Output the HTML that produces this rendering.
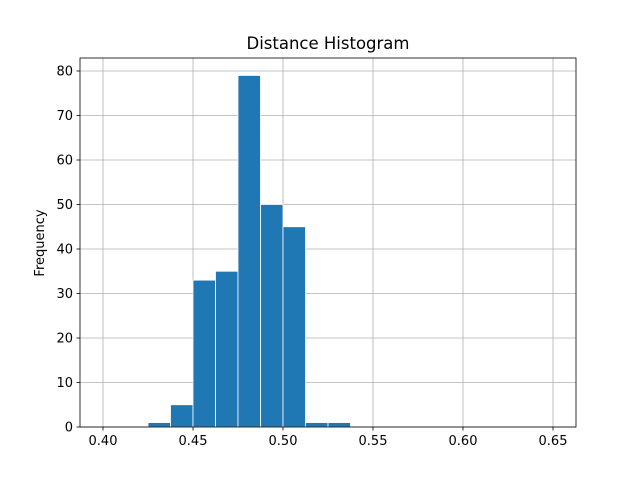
<!DOCTYPE html>
<html><head><meta charset="utf-8"><style>
body{margin:0;background:#fff;}
svg text{font-family:"DejaVu Sans","Liberation Sans",sans-serif;}
</style></head><body>
<svg id="chart" width="640" height="480" xmlns="http://www.w3.org/2000/svg">
<rect width="640" height="480" fill="#fff"/>
<text x="328" y="49" text-anchor="middle" font-size="16.5">Distance Histogram</text>
<text transform="translate(44,243) rotate(-90)" text-anchor="middle" font-size="13">Frequency</text>
<g id="grid"></g><g id="bars"></g><g id="axes"></g>
</svg>
<script>
const binStarts=[0.40,0.4125,0.425,0.4375,0.45,0.4625,0.475,0.4875,0.50,0.5125,0.525,0.5375,0.55,0.5625,0.575,0.5875,0.60,0.6125,0.625,0.6375];
const counts=[0,0,1,5,33,35,79,50,45,1,1,0,0,0,0,0,0,0,0,0];
const binWidth=0.0125;
const xTicks=[0.40,0.45,0.50,0.55,0.60,0.65];
const xTickLabels=["0.40","0.45","0.50","0.55","0.60","0.65"];
const yTicks=[0,10,20,30,40,50,60,70,80];
const L=80,R=576,T=58,B=427;
const xMin=0.38722,xMax=0.66278,yMax=82.92;
const sx=v=>L+(v-xMin)/(xMax-xMin)*(R-L);
const sy=v=>B-v/yMax*(B-T);
const NS="http://www.w3.org/2000/svg";
function mk(tag,attrs,parent){const e=document.createElementNS(NS,tag);for(const k in attrs)e.setAttribute(k,attrs[k]);parent.appendChild(e);return e;}
const grid=document.getElementById('grid'),bars=document.getElementById('bars'),axes=document.getElementById('axes');
xTicks.forEach((t,i)=>{
 const x=sx(t);
 const g=mk('line',{x1:x,x2:x,y1:T,y2:B,stroke:'#b0b0b0','stroke-width':0.8},grid);
 
 
 mk('line',{x1:x,x2:x,y1:B,y2:B+3.5,stroke:'#000','stroke-width':0.8},axes);
 const tx=mk('text',{x:x,y:B+18,'text-anchor':'middle','font-size':13},axes);
 tx.textContent=xTickLabels[i];
 
 
});
yTicks.forEach(t=>{
 const y=sy(t);
 const g=mk('line',{x1:L,x2:R,y1:y,y2:y,stroke:'#b0b0b0','stroke-width':0.8},grid);
 
 
 mk('line',{x1:L-3.5,x2:L,y1:y,y2:y,stroke:'#000','stroke-width':0.8},axes);
 const tx=mk('text',{x:L-7,y:y+4.5,'text-anchor':'end','font-size':13},axes);
 tx.textContent=t;
 
 
});
counts.forEach((c,i)=>{
 if(c<=0)return;
 const x0=sx(binStarts[i]),x1=sx(binStarts[i]+binWidth);
 const r=mk('rect',{x:x0,y:sy(c),width:x1-x0,height:B-sy(c),fill:'#1f77b4',stroke:'#fff','stroke-width':0.8},bars);
 
 
});
const f=mk('rect',{x:L,y:T,width:R-L,height:B-T,fill:'none',stroke:'#000','stroke-width':0.8},axes);


</script>
</body></html>
